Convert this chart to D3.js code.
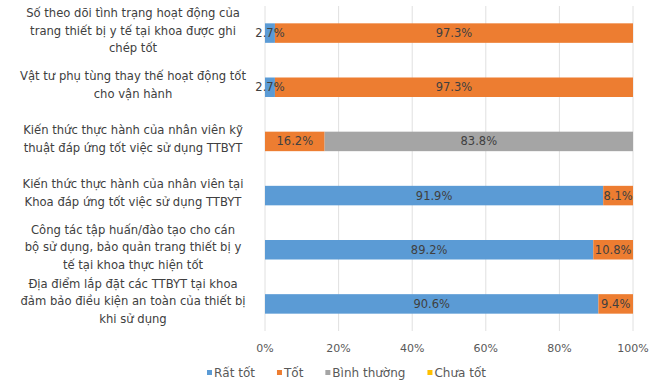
<!DOCTYPE html>
<html><head><meta charset="utf-8">
<script src="https://cdn.jsdelivr.net/npm/d3@7"></script>
<style>body{margin:0;background:#fff}svg{display:block}</style>
</head><body><svg id="c" width="651" height="383"></svg>
<script>
const categories = [
  ["Số theo dõi tình trạng hoạt động của", "trang thiết bị y tế tại khoa được ghi", "chép tốt"],
  ["Vật tư phụ tùng thay thế hoạt động tốt", "cho vận hành"],
  ["Kiến thức thực hành của nhân viên kỹ", "thuật đáp ứng tốt việc sử dụng TTBYT"],
  ["Kiến thức thực hành của nhân viên tại", "Khoa đáp ứng tốt việc sử dụng TTBYT"],
  ["Công tác tập huấn/đào tạo cho cán", "bộ sử dụng, bảo quản trang thiết bị y", "tế tại khoa thực hiện tốt"],
  ["Địa điểm lắp đặt các TTBYT tại khoa", "đảm bảo điều kiện an toàn của thiết bị", "khi sử dụng"]
];
const seriesNames = ["Rất tốt", "Tốt", "Bình thường", "Chưa tốt"];
const ratTot     = [2.7, 2.7, 0, 91.9, 89.2, 90.6];
const tot        = [97.3, 97.3, 16.2, 8.1, 10.8, 9.4];
const binhThuong = [0, 0, 83.8, 0, 0, 0];
const chuaTot    = [0, 0, 0, 0, 0, 0];
const xTicks = [0, 20, 40, 60, 80, 100];
const colors = ["#5B9BD5", "#ED7D31", "#A5A5A5", "#FFC000"];

const font = "'DejaVu Sans', sans-serif";
const svg = d3.select("#c");
const rows = categories.map((c, i) => ({i, v: [ratTot[i], tot[i], binhThuong[i], chuaTot[i]]}));

const x = d3.scaleLinear().domain([0, 100]).range([265, 633]);
const y = d3.scaleBand().domain(d3.range(categories.length)).range([6, 331]).paddingInner(0.64).paddingOuter(0.32);

// gridlines
svg.append("g").selectAll("line").data(xTicks).join("line")
  .attr("x1", d => x(d)).attr("x2", d => x(d)).attr("y1", 6).attr("y2", 331)
  .attr("stroke", "#e0e0e0").attr("stroke-width", 1);

// bars
const stack = rows.map(r => {
  let acc = 0;
  return r.v.map((v, k) => { const s = {row: r.i, k, x0: acc, x1: acc + v, v}; acc += v; return s; });
}).flat();

svg.append("g").selectAll("rect").data(stack.filter(d => d.v > 0)).join("rect")
  .attr("x", d => x(d.x0)).attr("width", d => x(d.x1) - x(d.x0))
  .attr("y", d => y(d.row)).attr("height", y.bandwidth())
  .attr("fill", d => colors[d.k]);

svg.append("g").selectAll("text").data(stack.filter(d => d.v > 0)).join("text")
  .attr("x", d => x((d.x0 + d.x1) / 2)).attr("y", d => y(d.row) + y.bandwidth() / 2)
  .attr("dy", "0.35em").attr("text-anchor", "middle")
  .attr("font-family", font).attr("font-size", 11.5).attr("fill", "#404040")
  .text(d => d.v.toFixed(1) + "%");

// category labels
const lh = 17.5;
const cg = svg.append("g");
categories.forEach((lines, i) => {
  const cy = y(i) + y.bandwidth() / 2 - 2.5;
  const t = cg.append("text").attr("text-anchor", "middle")
    .attr("font-family", font).attr("font-size", 11.6).attr("fill", "#404040");
  lines.forEach((ln, j) => {
    t.append("tspan").attr("x", 133)
      .attr("y", cy + (j - (lines.length - 1) / 2) * lh).attr("dy", "0.35em").text(ln);
  });
});

// x axis labels
svg.append("g").selectAll("text").data(xTicks).join("text")
  .attr("x", d => x(d)).attr("y", 348).attr("dy", "0.35em").attr("text-anchor", "middle")
  .attr("font-family", font).attr("font-size", 11).attr("fill", "#595959")
  .text(d => d + "%");

// legend
const lg = svg.append("g");
let lx = 207;
seriesNames.forEach((n, k) => {
  lg.append("rect").attr("x", lx).attr("y", 370).attr("width", 5).attr("height", 5).attr("fill", colors[k]);
  const t = lg.append("text").attr("x", lx + 7).attr("y", 373).attr("dy", "0.35em")
    .attr("font-family", font).attr("font-size", 12).attr("fill", "#595959").text(n);
  lx += 7 + t.node().getComputedTextLength() + 22;
});
</script></body></html>
